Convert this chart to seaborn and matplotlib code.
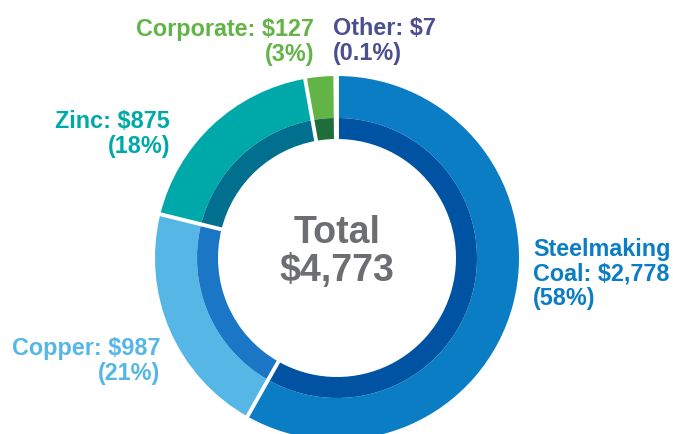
import numpy as np
import matplotlib
matplotlib.use("Agg")
import matplotlib.pyplot as plt
import seaborn as sns

# segment data, clockwise from 12 o'clock
segments = ["Steelmaking Coal", "Copper", "Zinc", "Corporate", "Other"]
values = [2778, 987, 875, 127, 7]
value_labels = ["$2,778", "$987", "$875", "$127", "$7"]
pct_labels = ["58%", "21%", "18%", "3%", "0.1%"]
total_label = "$4,773"

outer_colors = ["#0A7DC4", "#56B7E6", "#00A9A9", "#62B446", "#4B4F8E"]
inner_colors = ["#0052A2", "#1C76C6", "#00708E", "#1E6D3A", "#2E3470"]
text_colors = ["#0A7DC4", "#56B7E6", "#00A9A9", "#62B446", "#4B4F8E"]

sns.set_style("white")
plt.rcParams["font.family"] = ["Liberation Sans", "DejaVu Sans"]

fig = plt.figure(figsize=(6.73, 4.34), dpi=100)
ax = fig.add_axes([0, 0, 1, 1])

cx, cy = 337, 434 - 258
r_out, r_mid, r_in = 182, 140, 119

ax.pie(values, colors=outer_colors, radius=r_out, center=(cx, cy), startangle=90,
       counterclock=False, wedgeprops=dict(width=r_out - r_mid, linewidth=0), frame=True)
ax.pie(values, colors=inner_colors, radius=r_mid, center=(cx, cy), startangle=90,
       counterclock=False, wedgeprops=dict(width=r_mid - r_in, linewidth=0), frame=True)
ax.set_xlim(0, 673)
ax.set_ylim(0, 434)
ax.set_aspect("equal")
ax.axis("off")

# white separators between slices
cum = np.cumsum([0] + values)
for c in cum[:-1]:
    th = np.deg2rad(90 - 360 * c / cum[-1])
    ax.plot([cx + (r_in - 2) * np.cos(th), cx + (r_out + 2) * np.cos(th)],
            [cy + (r_in - 2) * np.sin(th), cy + (r_out + 2) * np.sin(th)],
            color="white", lw=2.8, solid_capstyle="butt")

kw = dict(fontsize=16.8, fontweight="bold", linespacing=1.08, va="center")
ax.text(533, 434 - 274, f"Steelmaking\nCoal: {value_labels[0]}\n({pct_labels[0]})",
        color=text_colors[0], ha="left", multialignment="left", **kw)
ax.text(160, 434 - 361, f"Copper: {value_labels[1]}\n({pct_labels[1]})",
        color=text_colors[1], ha="right", multialignment="right", **kw)
ax.text(170, 434 - 134, f"Zinc: {value_labels[2]}\n({pct_labels[2]})",
        color=text_colors[2], ha="right", multialignment="right", **kw)
ax.text(314, 434 - 42, f"Corporate: {value_labels[3]}\n({pct_labels[3]})",
        color=text_colors[3], ha="right", multialignment="right", **kw)
ax.text(333, 434 - 41, f"Other: {value_labels[4]}\n({pct_labels[4]})",
        color=text_colors[4], ha="left", multialignment="left", **kw)

ax.text(cx, 434 - 233, "Total", color="#6D6E71", fontsize=27, fontweight="bold",
        ha="center", va="center")
ax.text(cx, 434 - 271, total_label, color="#6D6E71", fontsize=27, fontweight="bold",
        ha="center", va="center")

fig.savefig("out.png", dpi=100)
